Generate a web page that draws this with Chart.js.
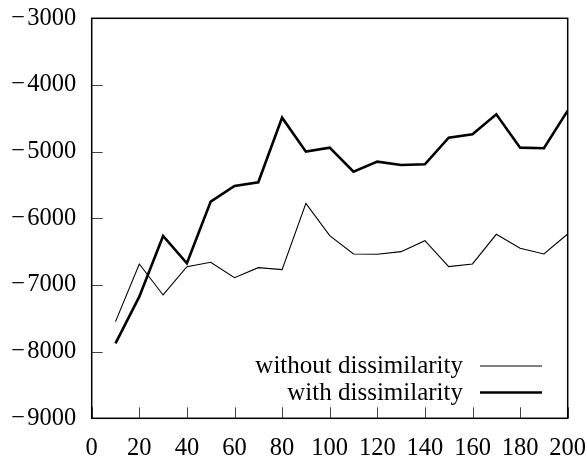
<!DOCTYPE html>
<html>
<head>
<meta charset="utf-8">
<script src="https://cdn.jsdelivr.net/npm/chart.js@4"></script>
<style>
  html, body { margin: 0; padding: 0; background: #fff; }
  #wrap { width: 587px; height: 457px; }
</style>
</head>
<body>
<div id="wrap"><canvas id="dissim_chart" width="587" height="457"></canvas></div>
<script>
// iterations on x, score on y
const steps = [10, 20, 30, 40, 50, 60, 70, 80, 90, 100, 110, 120, 130, 140, 150, 160, 170, 180, 190, 200];
const without_dissim = [-7550, -6685, -7150, -6725, -6660, -6890, -6740, -6770, -5775, -6260,
                        -6535, -6540, -6500, -6335, -6725, -6685, -6240, -6450, -6535, -6235];
const with_dissim = [-7875, -7176, -6265, -6675, -5750, -5515, -5460, -4490, -5000, -4940,
                     -5300, -5150, -5200, -5190, -4790, -4740, -4440, -4940, -4950, -4385];
const series_names = ['without dissimilarity', 'with dissimilarity'];
const x_ticks = [0, 20, 40, 60, 80, 100, 120, 140, 160, 180, 200];
const y_ticks = [-9000, -8000, -7000, -6000, -5000, -4000, -3000];

const serif = "'Liberation Serif', 'DejaVu Serif', serif";

function pts(ys) {
  return steps.map((x, i) => ({x: x, y: ys[i]}));
}

// box around the plot, inward tick marks and the legend in the lower right
const frameAndLegend = {
  id: 'frameAndLegend',
  afterDraw(chart) {
    const c = chart.ctx;
    const a = chart.chartArea;
    const xs = chart.scales.x, ys = chart.scales.y;
    c.save();
    c.strokeStyle = '#444';
    c.lineWidth = 1;
    x_ticks.forEach(v => {
      const px = Math.round(xs.getPixelForValue(v)) + 0.5;
      c.beginPath(); c.moveTo(px, a.bottom); c.lineTo(px, a.bottom - 11); c.stroke();
    });
    y_ticks.forEach(v => {
      const py = Math.round(ys.getPixelForValue(v)) + 0.5;
      c.beginPath(); c.moveTo(a.left, py); c.lineTo(a.left + 11, py); c.stroke();
    });
    c.strokeStyle = '#000';
    c.lineWidth = 1.5;
    c.strokeRect(a.left, a.top, a.right - a.left, a.bottom - a.top);

    c.font = '25px ' + serif;
    c.fillStyle = '#000';
    c.textAlign = 'right';
    c.textBaseline = 'alphabetic';
    const rows = [366, 392.5];
    chart.data.datasets.forEach((ds, i) => {
      c.fillText(ds.label, 463, rows[i] + 7);
      c.lineWidth = ds.borderWidth;
      c.strokeStyle = ds.borderColor;
      c.beginPath(); c.moveTo(480, rows[i]); c.lineTo(542, rows[i]); c.stroke();
    });
    c.restore();
  }
};

const tickFont = {family: serif, size: 24.5};

new Chart(document.getElementById('dissim_chart'), {
  type: 'line',
  data: {
    datasets: [
      {label: series_names[0], data: pts(without_dissim), borderColor: '#000', borderWidth: 1.1,
       pointRadius: 0, fill: false, tension: 0},
      {label: series_names[1], data: pts(with_dissim), borderColor: '#000', borderWidth: 2.6,
       pointRadius: 0, fill: false, tension: 0}
    ]
  },
  options: {
    responsive: false,
    animation: false,
    layout: {padding: {left: 0, top: 18.3, right: 19.3, bottom: 0}},
    plugins: {legend: {display: false}, tooltip: {enabled: false}},
    scales: {
      x: {
        type: 'linear', min: 0, max: 200,
        afterBuildTicks: s => { s.ticks = x_ticks.map(v => ({value: v})); },
        afterFit: s => { s.height = 38.7; s.paddingLeft = 0; s.paddingRight = 0; },
        grid: {display: false, drawTicks: false},
        border: {display: false},
        ticks: {font: tickFont, color: '#000', padding: 16, maxRotation: 0, autoSkip: false}
      },
      y: {
        type: 'linear', min: -9000, max: -3000,
        afterBuildTicks: s => { s.ticks = y_ticks.map(v => ({value: v})); },
        afterFit: s => { s.width = 91.7; s.paddingTop = 0; s.paddingBottom = 0; },
        grid: {display: false, drawTicks: false},
        border: {display: false},
        ticks: {font: tickFont, color: '#000', padding: 15.5,
                callback: v => v < 0 ? '\u2212\u200A' + Math.abs(v) : String(v)}
      }
    }
  },
  plugins: [frameAndLegend]
});
</script>
</body>
</html>
